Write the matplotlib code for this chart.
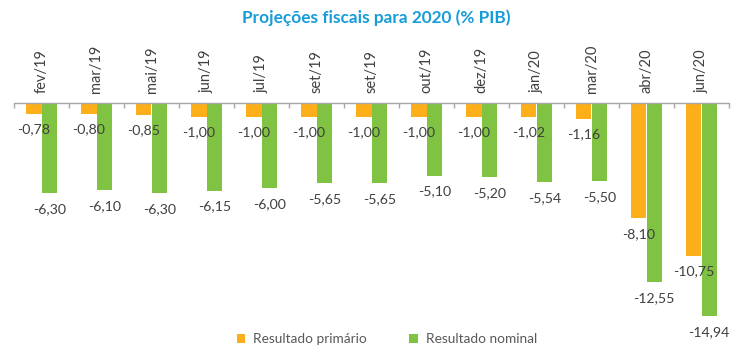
import matplotlib
matplotlib.use("Agg")
import matplotlib.pyplot as plt
from matplotlib.patches import Patch
import numpy as np

categories = ["fev/19", "mar/19", "mai/19", "jun/19", "jul/19", "set/19", "set/19",
              "out/19", "dez/19", "jan/20", "mar/20", "abr/20", "jun/20"]
primario = [-0.78, -0.80, -0.85, -1.00, -1.00, -1.00, -1.00, -1.00, -1.00, -1.02, -1.16, -8.10, -10.75]
nominal = [-6.30, -6.10, -6.30, -6.15, -6.00, -5.65, -5.65, -5.10, -5.20, -5.54, -5.50, -12.55, -14.94]

title = "Projeções fiscais para 2020 (% PIB)"
series_names = ["Resultado primário", "Resultado nominal"]

c_orange = "#FDAF1A"
c_green = "#80C242"
txt = "#404040"
FONT = "Lato"

plt.rcParams['font.family'] = [FONT, 'DejaVu Sans']

W, H = 752, 356
fig = plt.figure(figsize=(W / 100, H / 100), dpi=100)
left_px, right_px = 14, 729
top_px, bot_px = 102.7, 330
ax = fig.add_axes([left_px / W, 1 - bot_px / H, (right_px - left_px) / W, (bot_px - top_px) / H])

x = np.arange(len(categories))
w = 0.28
ax.bar(x - w / 2, primario, w, color=c_orange, label=series_names[0])
ax.bar(x + w / 2, nominal, w, color=c_green, label=series_names[1])

ax.set_xlim(-0.5, len(categories) - 0.5)
ax.set_ylim(-(bot_px - top_px) / 14.29, 0)

def fmt(v):
    return f"{v:.2f}".replace(".", ",")

for xi, v in zip(x - w / 2, primario):
    ax.annotate(fmt(v), (xi, v), xytext=(0, -11), textcoords="offset points",
                ha="center", va="center", fontsize=10.2, color=txt, annotation_clip=False)
for xi, v in zip(x + w / 2, nominal):
    ax.annotate(fmt(v), (xi, v), xytext=(0, -11.5), textcoords="offset points",
                ha="center", va="center", fontsize=10.2, color=txt, annotation_clip=False)

for s in ["left", "right", "bottom"]:
    ax.spines[s].set_visible(False)
ax.spines["top"].set_color("#A6A6A6")
ax.spines["top"].set_linewidth(1.0)
ax.set_yticks([])

ax.xaxis.tick_top()
ax.set_xticks(x)
ax.set_xticklabels(categories, rotation=90, fontsize=10.5, color=txt)
ax.tick_params(axis="x", which="major", length=0, pad=7)
ax.set_xticks(np.arange(-0.5, len(categories)), minor=True)
ax.tick_params(axis="x", which="minor", direction="in", length=3.5, color="#A6A6A6", width=1.0, top=True, bottom=False)

fig.text(376 / W, 1 - 18 / H, title, ha="center", va="center", fontsize=12.4,
         fontweight="bold", color="#169CD8", family=[FONT, 'DejaVu Sans'])

handles = [Patch(facecolor=c_orange), Patch(facecolor=c_green)]
fig.legend(handles, series_names, loc="center", bbox_to_anchor=(387 / W, 1 - 339 / H),
           ncol=2, frameon=False, fontsize=9.8, handlelength=0.6, handleheight=0.6,
           handletextpad=0.6, columnspacing=3.1, labelcolor="#595959")

fig.savefig("out.png", dpi=100)
